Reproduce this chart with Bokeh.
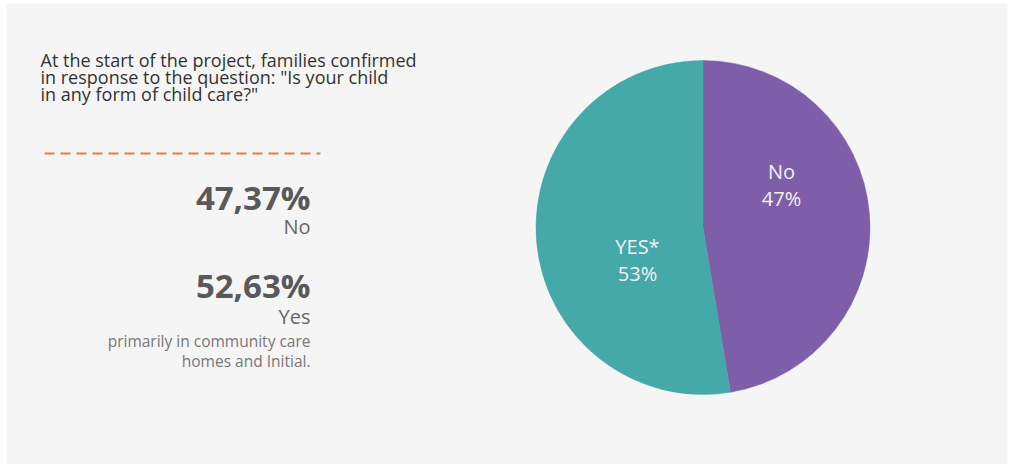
import math
from bokeh.plotting import figure
from bokeh.models import Range1d, ColumnDataSource
from bokeh.core.properties import value
from bokeh.embed import file_html
from bokeh.resources import INLINE

# ---- data ----
categories = ["No", "YES*"]
percents = [47.37, 52.63]
slice_labels = ["No\n47%", "YES*\n53%"]
colors = ["#7e5ea8", "#45a8a9"]

title_lines = [
    "At the start of the project, families confirmed",
    "in response to the question: \"Is your child",
    "in any form of child care?\"",
]
stat_values = ["47,37%", "52,63%"]
stat_names = ["No", "Yes"]
note_lines = ["primarily in community care", "homes and Initial."]

W, H = 1011, 464
FONT = "Open Sans"

p = figure(width=W, height=H, output_backend="svg", toolbar_location=None,
           x_range=Range1d(0, W), y_range=Range1d(0, H), min_border=0)
p.axis.visible = False
p.grid.visible = False
p.outline_line_color = None
p.background_fill_color = "white"
p.border_fill_color = "white"

def Y(sy):
    return H - sy

# panel background
p.quad(left=6, right=1007, bottom=Y(464), top=Y(3), fill_color="#f5f5f5", line_color=None)

# ---- pie ----
cx, cy, r = 702.5, Y(227), 167
total = sum(percents)
ends, starts = [], []
cum = 0.0
for v in percents:
    a0 = math.pi / 2 - 2 * math.pi * cum / total
    cum += v
    a1 = math.pi / 2 - 2 * math.pi * cum / total
    starts.append(a1)
    ends.append(a0)

src = ColumnDataSource(dict(start=starts, end=ends, color=colors, cat=categories))
p.wedge(x=cx, y=cy, radius=r, start_angle="start", end_angle="end",
        fill_color="color", line_color="color", line_width=0.5, source=src)

# slice labels
p.text(x=[781, 637], y=[Y(184), Y(259)], text=slice_labels,
       text_color="#f4f0f8", text_font=value(FONT), text_font_size="20px",
       text_align="center", text_baseline="middle", text_line_height=1.0)

# ---- left text ----
p.text(x=[40] * 3, y=[Y(59), Y(76), Y(93)], text=title_lines,
       text_color="#333333", text_font=value(FONT), text_font_size="18px",
       text_align="left", text_baseline="middle")

p.line(x=[44, 320], y=[Y(153), Y(153)], line_color="#ee7a3c", line_width=2,
       line_dash="10 6")

p.text(x=[310, 310], y=[Y(197), Y(285)], text=stat_values,
       text_color="#595959", text_font=value(FONT), text_font_size="33px",
       text_font_style="bold", text_align="right", text_baseline="middle")
p.text(x=[310, 310], y=[Y(226), Y(316)], text=stat_names,
       text_color="#666666", text_font=value(FONT), text_font_size="20px",
       text_align="right", text_baseline="middle")
p.text(x=[310, 310], y=[Y(340), Y(360)], text=note_lines,
       text_color="#777777", text_font=value(FONT), text_font_size="15.5px",
       text_align="right", text_baseline="middle")

open("out.html", "w").write(file_html(p, INLINE))
